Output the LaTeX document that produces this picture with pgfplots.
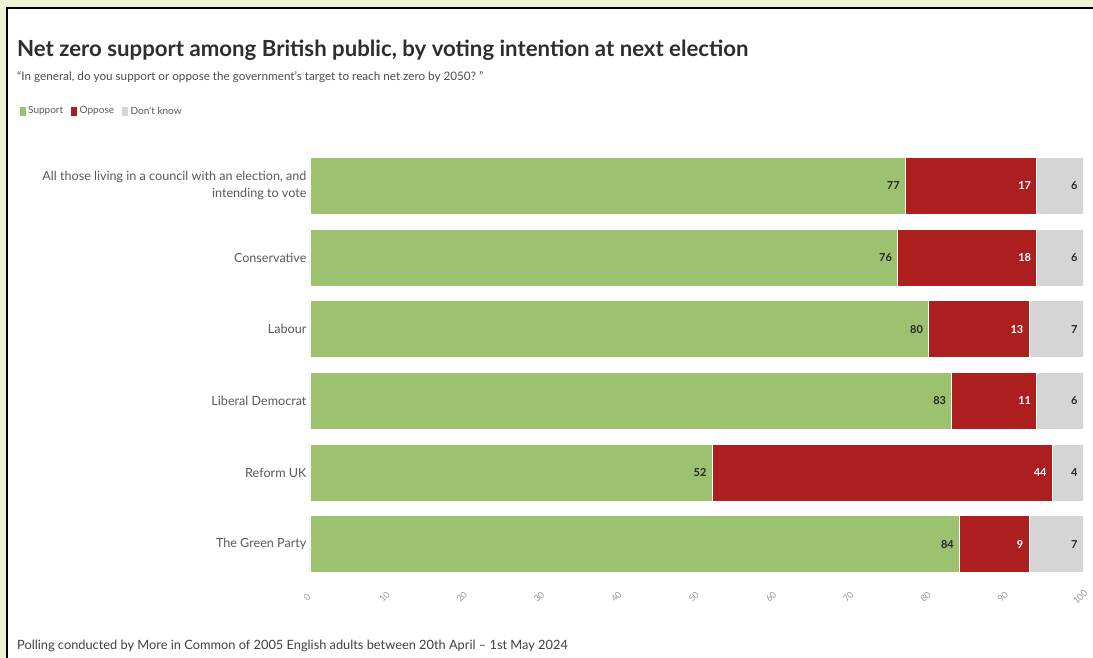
\documentclass[border=0pt]{standalone}
\usepackage{pgfplots}
\pgfplotsset{compat=1.18}
\usepackage{pgfplotstable}
\usepackage{fontspec}
\setmainfont{Lato}
\definecolor{sup}{HTML}{9DC26F}
\definecolor{opp}{HTML}{AD1F1F}
\definecolor{dk}{HTML}{D5D5D5}
\definecolor{bgframe}{HTML}{EEF3D6}
\pgfplotstableread{
y s o d e1 e2 e3
5 77 17 6 77 94 100
4 76 18 6 76 94 100
3 80 13 7 80 93 100
2 83 11 6 83 94 100
1 52 44 4 52 96 100
0 84 9 7 84 93 100
}\data
\pgfplotsset{
  common/.style={
    at={(310pt,-580pt)}, anchor=south west,
    scale only axis, width=773pt, height=430pt,
    xmin=0, xmax=100, ymin=-0.5, ymax=5.5,
    /pgf/number format/assume math mode=true,
  }
}
\begin{document}
\begin{tikzpicture}[x=1pt,y=1pt]
\path[use as bounding box] (0,0) rectangle (1093,-658);
\fill[bgframe] (0,0) rectangle (1093,-658);
\fill[white] (7,-8) rectangle (1093,-658);
\draw[black,line width=2.2pt] (7,-658) -- (7,-8) -- (1093,-8);
\node[anchor=base west,inner sep=0,text=black!82] at (17,-57) {\fontsize{22.2}{26}\selectfont\bfseries Net zero support among British public, by voting intention at next election};
\node[anchor=base west,inner sep=0,text=black!70] at (17,-81) {\fontsize{11.7}{14}\selectfont ``In general, do you support or oppose the government's target to reach net zero by 2050?~''};
\node[anchor=base west,inner sep=0,text=black!75] at (17,-649) {\fontsize{12.8}{14}\selectfont Polling conducted by More in Common of 2005 English adults between 20th April -- 1st May 2024};
\begin{axis}[
  common,
  xbar stacked, bar width=57pt,
  axis line style={draw=none},
  major tick length=0pt,
  xtick={0,10,...,100},
  ytick={0,1,2,3,4,5},
  yticklabels={The Green Party,Reform UK,Liberal Democrat,Labour,Conservative,{All those living in a council with an election, and\\intending to vote}},
  yticklabel style={align=right,font=\fontsize{12.6}{17}\selectfont,text=black!65},
  xticklabel style={rotate=45,anchor=center,xshift=-14pt,yshift=-10pt,font=\fontsize{9}{11}\selectfont,text=black!40},
  legend columns=3,
  legend style={draw=none,fill=none,at={(axis description cs:-0.381,1.0907)},anchor=west,font=\fontsize{10}{12}\selectfont,text=black!65,
    /tikz/every even column/.append style={column sep=5pt}},
  legend image code/.code={\fill[#1] (0pt,-5pt) rectangle (7pt,5pt);},
]
\addplot[fill=sup,draw=white,line width=0.5pt] table[x=s,y=y]{\data};
\addplot[fill=opp,draw=white,line width=0.5pt] table[x=o,y=y]{\data};
\addplot[fill=dk,draw=white,line width=0.5pt] table[x=d,y=y]{\data};
\legend{Support,Oppose,Don't know}
\end{axis}
\begin{axis}[
  common, hide axis,
  point meta=explicit,
  nodes near coords={\pgfmathprintnumber{\pgfplotspointmeta}},
  every node near coord/.append style={anchor=east,xshift=-2pt,font=\fontsize{11}{13}\selectfont\bfseries},
]
\addplot[draw=none,mark=none,nodes near coords style={text=black!85}] table[x=e1,y=y,meta=s]{\data};
\addplot[draw=none,mark=none,nodes near coords style={text=white}] table[x=e2,y=y,meta=o]{\data};
\addplot[draw=none,mark=none,nodes near coords style={text=black!85}] table[x=e3,y=y,meta=d]{\data};
\end{axis}
\end{tikzpicture}
\end{document}
